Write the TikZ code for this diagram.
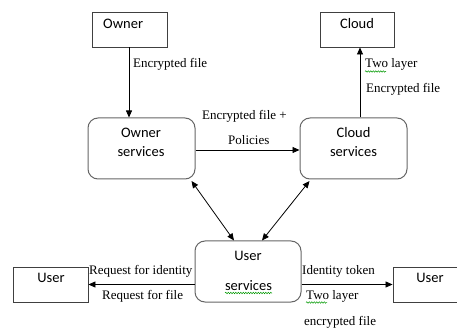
\documentclass[tikz,border=0pt]{standalone}
\usepackage{fontspec}
\setmainfont{Liberation Serif}
\newfontfamily\boxfont{Carlito}
\usetikzlibrary{arrows.meta,calc,decorations.pathmorphing}
\begin{document}
\begin{tikzpicture}[x=1pt,y=-1pt,
  sqbox/.style={draw=black!75, line width=0.9pt, rectangle, inner sep=0pt, minimum width=#1, minimum height=35pt},
  rbox/.style={draw=black!60, line width=1pt, rectangle, rounded corners=10pt, inner sep=0pt, minimum width=107pt, minimum height=61pt},
  boxlbl/.style={inner sep=0pt, anchor=base, font=\boxfont\fontsize{14.5}{16}\selectfont},
  edgelbl/.style={inner sep=0pt, anchor=base west, font=\fontsize{13}{15}\selectfont},
  conn/.style={draw=black, line width=0.8pt, -{Triangle[length=7pt,width=6pt]}},
  dconn/.style={draw=black, line width=0.8pt, {Triangle[length=7pt,width=6pt]}-{Triangle[length=7pt,width=6pt]}},
  spell/.style={draw=green!60!black, line width=0.5pt, decorate, decoration={snake, amplitude=0.7pt, segment length=2.5pt}}
]
\clip (0,0) rectangle (457,328);
\fill[white] (0,0) rectangle (457,328);

% boxes
\node[sqbox=75pt] (owner) at (129.5,29.5) {};
\node[sqbox=74pt] (cloud) at (357,29.5) {};
\node[rbox] (os) at (141.5,148.5) {};
\node[rbox] (cs) at (353.5,148.5) {};
\node[rbox, minimum width=106pt] (us) at (248,271.5) {};
\node[sqbox=75pt] (ul) at (50.5,284.5) {};
\node[sqbox=77pt] (ur) at (431.5,284.5) {};

% box texts
\node[boxlbl, anchor=base west] (t1) at (103,29) {Owner};
\node[boxlbl] (t2) at (357,29) {Cloud};
\node[boxlbl] (t3) at (141,138) {Owner};
\node[boxlbl] (t4) at (141,157) {services};
\node[boxlbl] (t5) at (353.5,138) {Cloud};
\node[boxlbl] (t6) at (353.5,157) {services};
\node[boxlbl] (t7) at (248,261) {User};
\node[boxlbl] (t8) at (248.5,290) {services};
\node[boxlbl] (t9) at (51,283) {User};
\node[boxlbl] (t10) at (430,283) {User};

% connectors
\coordinate (oa) at ($(owner.south)+(-0.5,0)$);
\draw[conn] (oa) -- (oa |- os.north);
\coordinate (ca) at ($(cs.north)+(6.5,0)$);
\draw[conn] (ca) -- (ca |- cloud.south);
\draw[conn] ($(os.east)+(0,1.5)$) -- ($(cs.west)+(0,1.5)$);
\draw[dconn] ($(os.south east)+(-4,1.5)$) -- ($(us.north)+(-14,0)$);
\draw[dconn] ($(cs.south west)+(10,1.5)$) -- ($(us.north)+(14,0)$);
\draw[conn] (us.west |- ul.east) -- (ul.east);
\draw[conn] (us.east |- ur.west) -- (ur.west);

% edge labels
\node[edgelbl] (l1) at (133,68) {Encrypted file};
\node[edgelbl] (l2) at (202,120) {Encrypted file +};
\node[edgelbl] (l3) at (228,145) {Policies};
\node[edgelbl] (l4) at (365,68) {Two layer};
\node[edgelbl] (l5) at (366,93) {Encrypted file};
\node[edgelbl] (l6) at (89,274) {Request for identity};
\node[edgelbl] (l7) at (102,299) {Request for file};
\node[edgelbl] (l8) at (302,274) {Identity token};
\node[edgelbl] (l9) at (306,299) {Two layer};
\node[edgelbl] (l10) at (304,325) {encrypted file};

% spell-check squiggles
\draw[spell] (365,71.5) -- (386,71.5);
\draw[spell] (306,302.5) -- (327,302.5);
\draw[spell] (225,293) -- (272,293);
\end{tikzpicture}
\end{document}
